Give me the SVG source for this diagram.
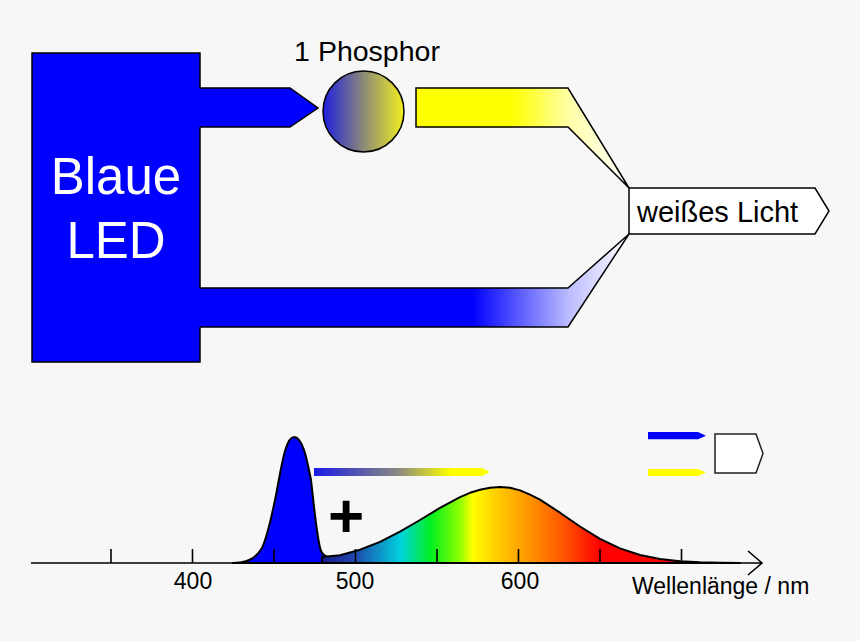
<svg xmlns="http://www.w3.org/2000/svg" width="860" height="641" viewBox="0 0 860 641">
<defs>
<style>
.ln{stroke:#000;stroke-width:1.5;fill:none;stroke-linejoin:miter}
.t{font-family:"Liberation Sans",Arial,sans-serif;fill:#000}
.ax{stroke:#000;stroke-width:1.6;fill:none}
</style>
<linearGradient id="gPh" x1="0" y1="0" x2="1" y2="0">
<stop offset="0" stop-color="#1f1fe0"/>
<stop offset="0.5" stop-color="#8c8a78"/>
<stop offset="1" stop-color="#f2ef1e"/>
</linearGradient>
<linearGradient id="gY" gradientUnits="userSpaceOnUse" x1="416" y1="0" x2="629" y2="0">
<stop offset="0" stop-color="#ffff00"/>
<stop offset="0.45" stop-color="#ffff00"/>
<stop offset="0.72" stop-color="#ffffa8"/>
<stop offset="1" stop-color="#ffffff"/>
</linearGradient>
<linearGradient id="gB" gradientUnits="userSpaceOnUse" x1="200" y1="0" x2="629" y2="0">
<stop offset="0" stop-color="#0000ff"/>
<stop offset="0.635" stop-color="#0000ff"/>
<stop offset="0.86" stop-color="#bcbcff"/>
<stop offset="1" stop-color="#ffffff"/>
</linearGradient>
<linearGradient id="gArr" gradientUnits="userSpaceOnUse" x1="314" y1="0" x2="490" y2="0">
<stop offset="0" stop-color="#1a1ae6"/>
<stop offset="0.48" stop-color="#8a8a80"/>
<stop offset="0.78" stop-color="#ffff00"/>
<stop offset="1" stop-color="#ffff00"/>
</linearGradient>
<linearGradient id="gSp" gradientUnits="userSpaceOnUse" x1="322" y1="0" x2="740" y2="0">
<stop offset="0" stop-color="#1a1a8c"/>
<stop offset="0.08" stop-color="#1e4ab0"/>
<stop offset="0.19" stop-color="#00d4dc"/>
<stop offset="0.26" stop-color="#00f020"/>
<stop offset="0.33" stop-color="#90ff00"/>
<stop offset="0.36" stop-color="#ffff00"/>
<stop offset="0.43" stop-color="#ffc400"/>
<stop offset="0.51" stop-color="#ff8a00"/>
<stop offset="0.59" stop-color="#ff4a00"/>
<stop offset="0.665" stop-color="#ff0000"/>
<stop offset="1" stop-color="#ff0000"/>
</linearGradient>
</defs>
<rect width="860" height="641" fill="#f7f7f7"/>

<g id="led">
<rect x="32" y="53" width="168" height="309" fill="#0000ff"/>
<path class="ln" d="M200,88 V53 H32 V362 H200 V327 M200,127 V288"/>
<text class="t" x="116" y="194" font-size="51" text-anchor="middle" style="fill:#fff">Blaue</text>
<text class="t" x="116" y="258" font-size="51" text-anchor="middle" style="fill:#fff">LED</text>
</g>

<g id="phosphor">
<circle cx="363.5" cy="111.5" r="40.5" fill="url(#gPh)" stroke="#000" stroke-width="1.5"/>
<text class="t" x="367" y="61" font-size="28.5" text-anchor="middle">1 Phosphor</text>
</g>

<g id="white-light">
<path d="M629,188 H815 L829,211 L815,234 H629 Z" fill="#fff" stroke="#000" stroke-width="1.5"/>
<text class="t" x="637" y="222" font-size="29">weißes Licht</text>
</g>

<g id="connectors">
<polygon points="200,88 290,88 318,108 290,127 200,127" fill="#0000ff"/>
<path class="ln" d="M200,88 H290 L318,108 L290,127 H200"/>
<polygon points="416,88 568,88 629,188 568,127 416,127" fill="url(#gY)" stroke="#000" stroke-width="1.5"/>
<polygon points="200,288 568,288 629,234 568,327 200,327" fill="url(#gB)"/>
<path class="ln" d="M200,288 H568 L629,234 L568,327 H200"/>
</g>

<g id="spectrum">
<path d="M232,563 C245,563 255,560 262,548 C268,535 272,515 276,495 C281,470 285,437 294,437 C303,437 307,460 311,480 C314,505 317,540 321,551 C324,558 335,561 355,563 Z" fill="#0000ff" stroke="#000" stroke-width="2"/>
<path d="M322,563 L322,557 L340,555.2 L360,549.7 L380,541.9 L400,531.7 L420,520 L440,507.8 L460,497.1 L470,492.8 L480,489.7 L490,487.7 L500,487 L510,487.8 L520,490.4 L530,494.6 L540,499.7 L560,512.7 L580,526.5 L600,538.9 L620,548.4 L640,555 L660,559 L680,561.2 L700,562.2 L720,562.7 L740,563 Z" fill="url(#gSp)" stroke="#000" stroke-width="2" stroke-linejoin="round"/>
<path class="ax" d="M31,563 H762 M748,551 L762,563 L748,575"/>
<path class="ax" d="M111,549 V563 M192.5,549 V563 M274,549 V563 M355.5,549 V563 M437,549 V563 M518.5,549 V563 M600,549 V563 M681.5,549 V563"/>
<text class="t" x="193" y="589" font-size="23" text-anchor="middle">400</text>
<text class="t" x="355" y="589" font-size="23" text-anchor="middle">500</text>
<text class="t" x="520" y="589" font-size="23" text-anchor="middle">600</text>
<text class="t" x="632" y="594" font-size="23">Wellenlänge / nm</text>
<polygon points="314,468 482,468 490,472 482,476 314,476" fill="url(#gArr)"/>
<text class="t" x="346" y="537" font-size="62" font-weight="bold" text-anchor="middle">+</text>
</g>

<g id="legend">
<polygon points="648,432 698,432 706,435.7 698,439.3 648,439.3" fill="#0000ff"/>
<polygon points="648,469 698,469 706,472.5 698,476 648,476" fill="#ffff00"/>
<path d="M715,434 H756 L763,453.5 L756,473 H715 Z" fill="#fff" stroke="#222" stroke-width="1.5"/>
</g>
</svg>
